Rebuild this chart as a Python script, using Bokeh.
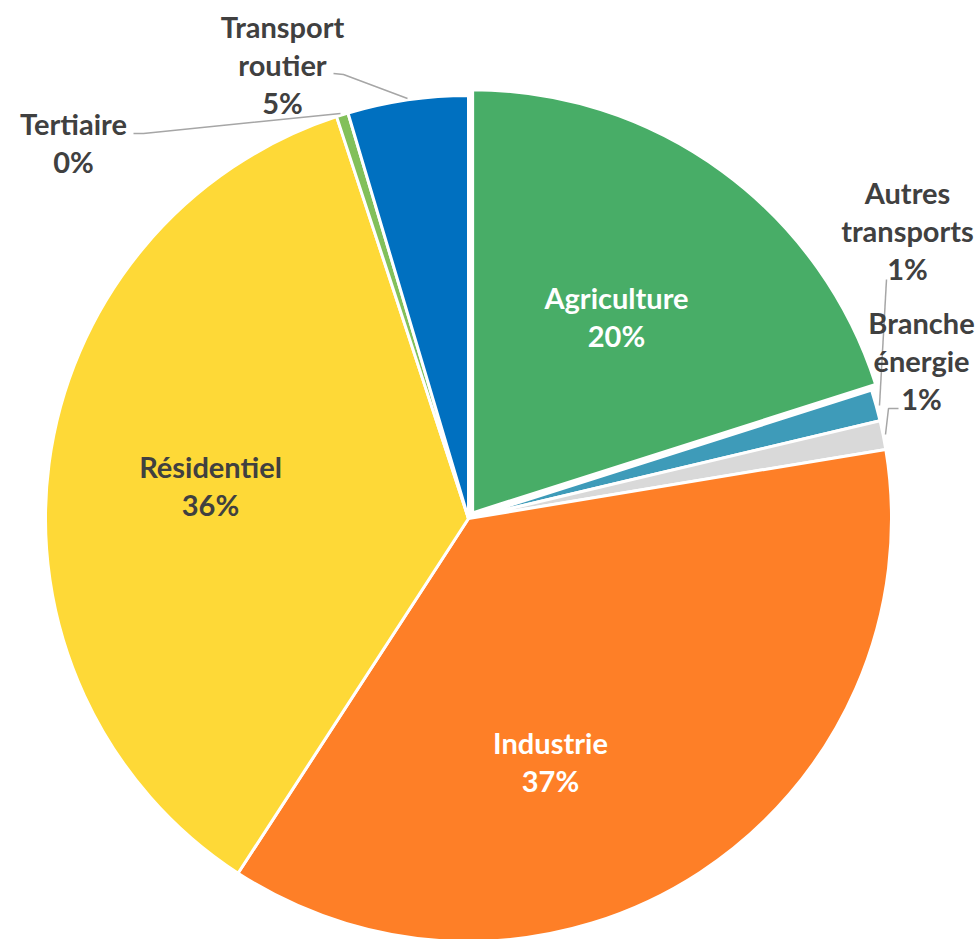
import numpy as np
from bokeh.plotting import figure
from bokeh.models import Range1d, ColumnDataSource
from bokeh.core.properties import value
from bokeh.embed import file_html
from bokeh.resources import INLINE

# ---- data ----
categories = ["Agriculture", "Autres transports", "Branche énergie", "Industrie",
              "Résidentiel", "Tertiaire", "Transport routier"]
shares = [20.1, 1.2, 1.1, 36.8, 35.8, 0.45, 4.6]
colors = ["#48AD67", "#3E9BB9", "#D9D9D9", "#FE7F27", "#FED937", "#82C05A", "#0070C0"]
label_lines = [["Agriculture"], ["Autres", "transports"], ["Branche", "énergie"],
               ["Industrie"], ["Résidentiel"], ["Tertiaire"], ["Transport", "routier"]]

# ---- layout (pixel coordinates of the page) ----
W, H = 979, 939
def Y(py):
    return H - py

cx, cy, R = 468, 518, 423
explode = [7, 0, 0, 0, 0, 0, 0]
label_pos = [(616, 297), (907, 192), (921, 322), (550, 742), (210, 466), (73, 123), (282, 26)]
label_color = ["white", "#404040", "#404040", "white", "#404040", "#404040", "#404040"]
line_step = 38
leaders = [
    None,
    [(886, 279), (879, 405)],
    [(898, 408), (888, 408), (885, 434)],
    None, None,
    [(133, 133), (143, 133), (340, 113)],
    [(333, 73), (343, 74), (407, 98)],
]

p = figure(width=W, height=H, output_backend="svg", toolbar_location=None,
           x_range=Range1d(0, W), y_range=Range1d(0, H),
           x_axis_type=None, y_axis_type=None, min_border=0)
p.grid.visible = False
p.outline_line_color = None
p.background_fill_color = "white"
p.border_fill_color = "white"

total = sum(shares)
frac = np.array(shares) / total
cum = np.concatenate([[0], np.cumsum(frac)])
start = np.pi / 2 - cum[:-1] * 2 * np.pi
end = np.pi / 2 - cum[1:] * 2 * np.pi
mid = (start + end) / 2
xs = [cx + e * np.cos(m) for e, m in zip(explode, mid)]
ys = [Y(cy) + e * np.sin(m) for e, m in zip(explode, mid)]

src = ColumnDataSource(dict(x=xs, y=ys, start=start, end=end, color=colors))
p.wedge(x="x", y="y", radius=R, start_angle="start", end_angle="end",
        direction="clock", fill_color="color", line_color="white", line_width=3,
        source=src)

# leader lines
lx, ly = [], []
for ld in leaders:
    if ld:
        lx.append([q[0] for q in ld])
        ly.append([Y(q[1]) for q in ld])
p.multi_line(xs=lx, ys=ly, line_color="#A6A6A6", line_width=1.5)

# labels
tx, ty, tt, tc = [], [], [], []
for i, name in enumerate(categories):
    lines = label_lines[i] + [f"{round(frac[i] * 100)}%"]
    x0, y0 = label_pos[i]
    for j, t in enumerate(lines):
        tx.append(x0)
        ty.append(Y(y0 + j * line_step))
        tt.append(t)
        tc.append(label_color[i])
p.text(x=tx, y=ty, text=tt, text_color=tc, text_font=value("Lato"),
       text_font_style="bold", text_font_size="29px",
       text_align="center", text_baseline="middle")

open("out.html", "w").write(file_html(p, INLINE))
